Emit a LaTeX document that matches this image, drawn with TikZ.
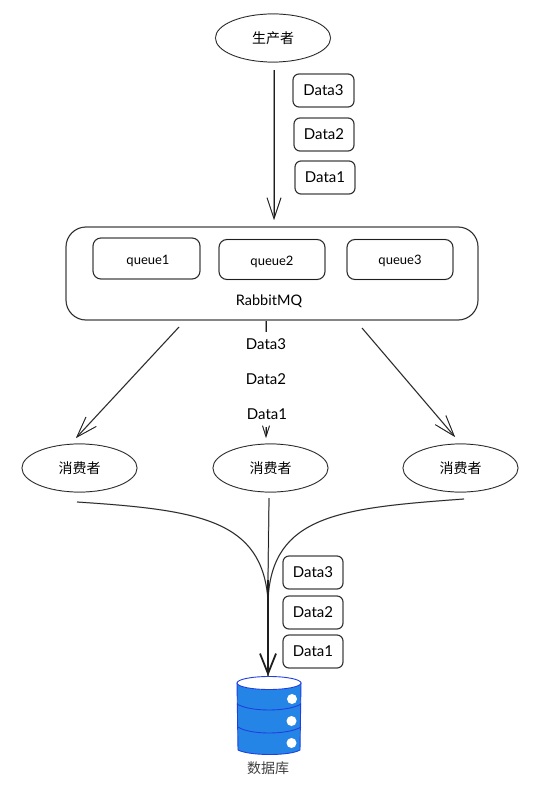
\documentclass[tikz,border=0pt]{standalone}
\usepackage{fontspec}
\setmainfont{Lato}
\newfontfamily\cjk{Noto Sans CJK SC}
\usetikzlibrary{arrows.meta,shapes.geometric}
\definecolor{ink}{HTML}{1E1E1E}
\definecolor{dbfill}{HTML}{2585E6}
\definecolor{dbline}{HTML}{1F3FE0}
\tikzset{
  x=1pt,y=-1pt,
  rough/.style={preaction={draw=ink!45,line width=1.3pt}},
  sketch/.style={draw=ink,line width=.7pt,rough},
  blob/.style={ellipse,sketch,fill=white,minimum width=115pt,minimum height=48pt,inner sep=0pt,font=\cjk\fontsize{14}{16}\selectfont},
  databox/.style={rectangle,sketch,rounded corners=6pt,minimum width=60pt,minimum height=33pt,inner sep=0pt,font=\fontsize{15}{17}\selectfont},
  queuebox/.style={rectangle,sketch,rounded corners=8pt,minimum width=106pt,minimum height=40pt,inner sep=0pt},
  plain/.style={inner sep=0pt,font=\fontsize{15}{17}\selectfont},
  qlabel/.style={inner sep=0pt,font=\fontsize{13}{15}\selectfont},
  conn/.style={draw=ink,line width=.7pt,rough},
  barb/.style={-{Straight Barb[length=21pt,width=14pt,line width=.8pt]}},
  heavybarb/.style={-{Straight Barb[length=20pt,width=16pt,line width=1.8pt]}},
  minibarb/.style={-{Straight Barb[length=11pt,width=7pt,line width=.8pt]}},
}
\begin{document}
\begin{tikzpicture}
\useasboundingbox (0,0) rectangle (549,786);
% producer
\node[blob] (prod) at (273,38) {生产者};
\node[databox,minimum width=61pt] (pd3) at (323.5,90.5) {Data3};
\node[databox] (pd2) at (324,134.5) {Data2};
\node[databox] (pd1) at (325,177.5) {Data1};
% broker
\node[rectangle,sketch,rounded corners=20pt,minimum width=412pt,minimum height=93pt] (mq) at (272,273.5) {};
\node[queuebox,minimum width=107pt,minimum height=41pt] (q1) at (146.5,258.5) {};
\node[queuebox] (q2) at (272,259.5) {};
\node[queuebox] (q3) at (400,259.5) {};
\node[qlabel] at (148,261) {queue1};
\node[qlabel] at (272,262) {queue2};
\node[qlabel] at (400,261) {queue3};
\node[plain,font=\fontsize{14.5}{16}\selectfont] (mqlabel) at (269,301) {RabbitMQ};
% consumers
\node[blob] (c1) at (79.5,468) {消费者};
\node[blob] (c2) at (270.5,468) {消费者};
\node[blob] (c3) at (460.5,468) {消费者};
% labels on the middle route
\node[plain] (md3) at (266,344) {Data3};
\node[plain] (md2) at (266,379) {Data2};
\node[plain] (md1) at (267,414) {Data1};
% database
\begin{scope}[line width=.9pt,draw=dbline]
\path[fill=dbfill,draw=dbline] (237,683) -- (238,750) .. controls (250,756) and (290,756) .. (300,750) -- (301,683) .. controls (290,677) and (248,677) .. (237,683) -- cycle;
\draw (237,704) .. controls (250,712) and (288,712) .. (301,704);
\draw (238,727) .. controls (250,735) and (288,735) .. (301,727);
\path[fill=white,draw=dbline] (269,683) ellipse [x radius=32,y radius=6.5];
\fill[white] (292,699) circle [radius=5];
\fill[white] (291.5,721) circle [radius=5];
\fill[white] (291.5,743) circle [radius=5];
\end{scope}
\coordinate (dbtop) at (268,676);
\node[inner sep=0pt,font=\cjk\fontsize{14}{16}\selectfont,text=ink!85] (dblabel) at (268,768) {数据库};
\node[databox] (dd3) at (313,572.5) {Data3};
\node[databox] (dd2) at (313,612.5) {Data2};
\node[databox] (dd1) at (313,651.5) {Data1};
% free ends of the connectors
\coordinate (a1) at (274,70);
\coordinate (a2) at (274,220);
\coordinate (l1) at (179,327);
\coordinate (l2) at (76,438);
\coordinate (r1) at (362,328);
\coordinate (r2) at (455,437);
\coordinate (m1) at (266,321);
\coordinate (m2) at (266,332);
\coordinate (m3) at (266,427);
\coordinate (m4) at (266,438);
\coordinate (b1) at (77,502);
\coordinate (b2) at (269,498);
\coordinate (b3) at (464,499);
% connectors
\draw[conn,barb] (a1) -- (a2);
\draw[conn,barb] (l1) -- (l2);
\draw[conn,barb] (r1) -- (r2);
\draw[conn] (m1) -- (m2);
\draw[conn,minibarb] (m3) -- (m4);
\draw[conn] (b1) .. controls (200,510) and (262,520) .. (268,600) -- (dbtop);
\draw[conn] (b3) .. controls (340,508) and (272,515) .. (268,600) -- (dbtop);
\draw[conn] (b2) -- (268,580);
\draw[draw=ink,line width=2pt,heavybarb] (268,580) -- (dbtop);
\end{tikzpicture}
\end{document}
